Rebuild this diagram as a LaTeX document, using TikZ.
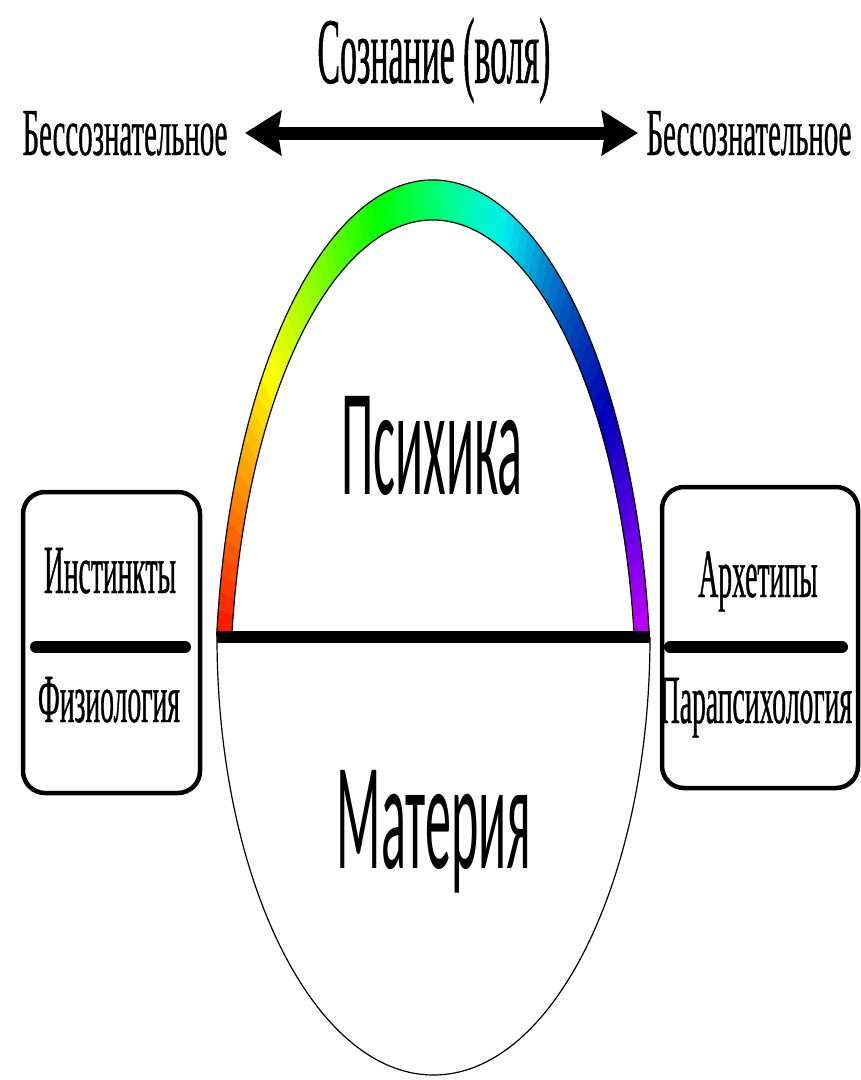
\documentclass[tikz,border=0pt]{standalone}
\usepackage{fontspec}
\usetikzlibrary{arrows.meta}
\newfontfamily\serifcond[FakeStretch=0.40,FakeBold=0.5]{Liberation Serif}
\newfontfamily\serifwide[FakeStretch=0.43,FakeBold=0.5]{Liberation Serif}
\newfontfamily\seriftitle[FakeStretch=0.36,FakeBold=0.5]{Liberation Serif}
\newfontfamily\sanscond[FakeStretch=0.34]{Carlito}

\newlength{\du}
\setlength{\du}{1pt}

\tikzset{
  toplbl/.style={anchor=base, inner sep=0pt, font=\serifwide\fontsize{67}{70}\selectfont},
  titlelbl/.style={anchor=base, inner sep=0pt, font=\seriftitle\fontsize{94}{98}\selectfont},
  boxlbl/.style={anchor=base, inner sep=0pt, font=\serifcond\fontsize{69}{72}\selectfont},
  biglbl/.style={anchor=base, inner sep=0pt, font=\sanscond\fontsize{153}{160}\selectfont},
  sidebox/.style={draw, line width=4.5\du, rounded corners=22\du, inner sep=0pt},
  boxbar/.style={line width=12\du, line cap=round},
  bigarrow/.style={line width=13\du, {Stealth[length=36pt,width=44pt,inset=3pt]}-{Stealth[length=36pt,width=44pt,inset=3pt]}},
  divider/.style={line width=12\du},
  arcline/.style={line width=1.2\du}
}

\begin{document}
\begin{tikzpicture}
\pgftransformxscale{1.000000}
\pgftransformyscale{-1.000000}
\useasboundingbox (0\du,0\du) rectangle (861\du,1080\du);

% top line
\node[titlelbl] (soznanie) at (434\du,83\du) {Сознание (воля)};
\node[toplbl] (bessL) at (125\du,155\du) {Бессознательное};
\node[toplbl] (bessR) at (749\du,155\du) {Бессознательное};
\coordinate (arrL) at (245\du,133\du);
\coordinate (arrR) at (638\du,133\du);
\draw[bigarrow] (arrL) -- (arrR);

% rainbow arc
\begin{scope}
\clip (0\du,0\du) rectangle (861\du,637\du);
\foreach \a in {4,6,...,174}{
  \pgfmathsetmacro{\b}{\a+2.5}
  \pgfmathsetmacro{\hue}{(174-\a)/168*0.8}
  \pgfmathsetmacro{\bri}{1-0.3*exp(-((\a-42)/22)^2)}
  \definecolor{rbow}{hsb}{\hue,1,\bri}
  \pgfmathsetmacro{\xo}{433+218*cos(\a)}
  \pgfmathsetmacro{\yo}{700-520*sin(\a)}
  \pgfmathsetmacro{\xob}{433+218*cos(\b)}
  \pgfmathsetmacro{\yob}{700-520*sin(\b)}
  \pgfmathsetmacro{\xin}{433+203*cos(\a)}
  \pgfmathsetmacro{\yin}{700-480*sin(\a)}
  \pgfmathsetmacro{\xinb}{433+203*cos(\b)}
  \pgfmathsetmacro{\yinb}{700-480*sin(\b)}
  \fill[rbow] (\xo\du,\yo\du) -- (\xob\du,\yob\du) -- (\xinb\du,\yinb\du) -- (\xin\du,\yin\du) -- cycle;
}
\draw[arcline] (216.6\du,636.6\du) arc[start angle=187, end angle=353, x radius=218\du, y radius=520\du];
\draw[arcline] (231.5\du,641.5\du) arc[start angle=187, end angle=353, x radius=203\du, y radius=480\du];
\end{scope}

% lower half
\coordinate (arcL) at (217\du,637\du);
\coordinate (arcR) at (650\du,637\du);
\draw[arcline] (arcL) arc[start angle=180, end angle=0, x radius=216.5\du, y radius=438\du];
\draw[divider] (arcL) -- (arcR);

\node[biglbl] (psyche) at (432\du,494\du) {Психика};
\node[biglbl] (matter) at (434\du,868\du) {Материя};

% side boxes
\node[sidebox, minimum width=177\du, minimum height=301\du] (leftbox) at (111.5\du,642.5\du) {};
\node[boxlbl] (instinct) at (110\du,593\du) {Инстинкты};
\coordinate (barL1) at (36\du,647\du);
\coordinate (barL2) at (185\du,647\du);
\draw[boxbar] (barL1) -- (barL2);
\node[boxlbl] (physio) at (109\du,722\du) {Физиология};

\node[sidebox, minimum width=196\du, minimum height=301\du] (rightbox) at (760\du,637.5\du) {};
\node[boxlbl] (archetype) at (758\du,597\du) {Архетипы};
\coordinate (barR1) at (670\du,647\du);
\coordinate (barR2) at (842\du,647\du);
\draw[boxbar] (barR1) -- (barR2);
\node[boxlbl] (parapsy) at (756\du,723\du) {Парапсихология};
\end{tikzpicture}
\end{document}
